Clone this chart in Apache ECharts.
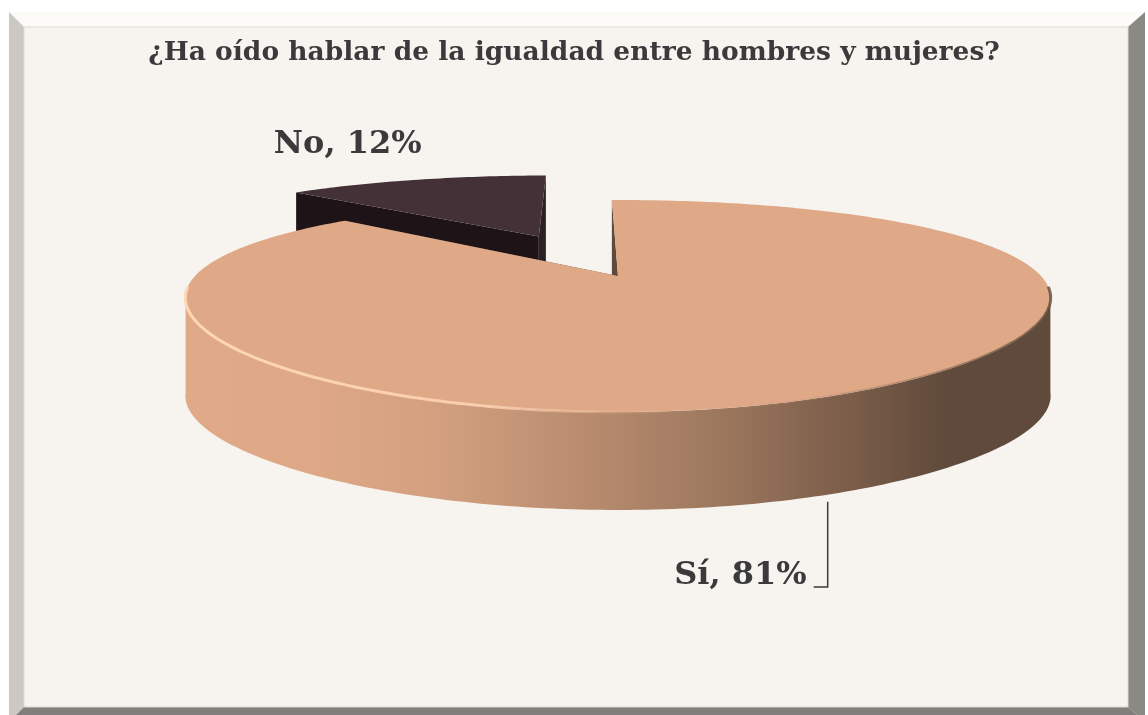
<!DOCTYPE html>
<html>
<head>
<meta charset="utf-8">
<script src="https://cdn.jsdelivr.net/npm/echarts@6/dist/echarts.min.js"></script>
<style>
  html, body { margin: 0; padding: 0; background: #ffffff; }
  #main { width: 1148px; height: 715px; }
</style>
</head>
<body>
<div id="main"></div>
<script>
// datos de la encuesta
var categories = ['Sí', 'No'];
var values = [81, 12];
var titleText = '¿Ha oído hablar de la igualdad entre hombres y mujeres?';

// geometria del pastel 3D (perspectiva aproximada)
var CX = 618, CY = 276;      // centro del pastel
var A = 423, B = 97.5;       // semiejes
var PX = 0.21, PY = 0.283;   // perspectiva
var DEPTH = 98;              // grosor
var START = -1;              // angulo inicial (grados, sentido horario desde arriba)
var EXPLODE = [0, 0.5];
// parte visible de la pared exterior (entre las siluetas)
var SIL = [Math.acos(-PX) * 180 / Math.PI, 360 - Math.acos(-PX) * 180 / Math.PI];

var total = values.reduce(function (a, b) { return a + b; }, 0);

function sliceAngles(i) {
  var a = START;
  for (var j = 0; j < i; j++) a += values[j] / total * 360;
  return [a, a + values[i] / total * 360];
}

function proj(theta, r, ou, ov, dz) {
  var t = theta * Math.PI / 180;
  var u = ou + r * Math.sin(t);
  var v = ov - r * Math.cos(t);
  return [CX + A * u / (1 - PX * v), CY + B * v / (1 - PY * v) + (dz || 0)];
}

function arc(a1, a2, ou, ov, dz) {
  var pts = [];
  var n = Math.max(2, Math.ceil(Math.abs(a2 - a1)));
  for (var k = 0; k <= n; k++) {
    pts.push(proj(a1 + (a2 - a1) * k / n, 1, ou, ov, dz));
  }
  return pts;
}

var siWall = {
  type: 'linear', x: 185, y: 0, x2: 1051, y2: 0, global: true,
  colorStops: [
    { offset: 0, color: '#e0aa88' },
    { offset: 0.15, color: '#dea886' },
    { offset: 0.3, color: '#d19f7f' },
    { offset: 0.45, color: '#bb8d70' },
    { offset: 0.6, color: '#a07a60' },
    { offset: 0.75, color: '#7f604c' },
    { offset: 0.88, color: '#5f4a3b' },
    { offset: 1, color: '#5f4a3b' }
  ]
};
var rimLight = {
  type: 'linear', x: 185, y: 0, x2: 1051, y2: 0, global: true,
  colorStops: [
    { offset: 0, color: 'rgba(255,214,182,1)' },
    { offset: 0.35, color: 'rgba(255,214,182,0.8)' },
    { offset: 0.6, color: 'rgba(223,169,136,0)' },
    { offset: 0.85, color: 'rgba(95,74,59,0.35)' },
    { offset: 1, color: 'rgba(95,74,59,0.8)' }
  ]
};

var sliceStyle = [
  { top: '#dfa988', wall: siWall, face1: '#5e4a3c', face2: '#5e4a3c' },
  { top: '#433137', wall: '#2a1c20', face1: '#1e1417', face2: '#2c2024' }
];

function renderItem(params, api) {
  var i = params.dataIndex;
  var ang = sliceAngles(i);
  var mid = (ang[0] + ang[1]) / 2;
  var e = EXPLODE[i];
  var ou = e * Math.sin(mid * Math.PI / 180);
  var ov = -e * Math.cos(mid * Math.PI / 180);
  var st = sliceStyle[i];
  var base = i === 0 ? 10 : 0;

  var c = proj(0, 0, ou, ov, 0);
  var cb = proj(0, 0, ou, ov, DEPTH);
  var topArc = arc(ang[0], ang[1], ou, ov, 0);

  var children = [];
  // pared exterior: solo el tramo frontal
  var w1 = Math.max(ang[0], SIL[0] - 2), w2 = Math.min(ang[1], SIL[1] + 2);
  if (w2 > w1) {
    var wt = arc(w1, w2, ou, ov, 0);
    var wb = arc(w1, w2, ou, ov, DEPTH);
    children.push({
      type: 'polygon', z2: base + 1,
      shape: { points: wt.concat(wb.reverse()) },
      style: { fill: st.wall }
    });
  }
  [[ang[0], st.face1], [ang[1], st.face2]].forEach(function (f) {
    var r0 = proj(f[0], 1, ou, ov, 0);
    var r1 = proj(f[0], 1, ou, ov, DEPTH);
    children.push({
      type: 'polygon', z2: base + 2,
      shape: { points: [c, r0, r1, cb] },
      style: { fill: f[1] }
    });
  });
  children.push({
    type: 'polygon', z2: base + 3,
    shape: { points: [c].concat(topArc) },
    style: { fill: st.top }
  });

  var label = categories[i] + ', ' + api.value(0) + '%';
  var font = 'bold 32px "DejaVu Serif", serif';
  if (i === 0) {
    children.push({
      type: 'polyline', z2: base + 4,
      shape: { points: arc(SIL[0] - 6, SIL[1] + 6, ou, ov, 0) },
      style: { stroke: rimLight, lineWidth: 3, fill: null }
    });
    var p = proj(mid, 1, ou, ov, DEPTH);
    var lx = p[0] - 5, ly = 587;
    children.push({
      type: 'polyline', z2: 40,
      shape: { points: [[lx, p[1] + 8], [lx, ly], [lx - 14, ly]] },
      style: { stroke: '#3a3a3c', lineWidth: 1.5, fill: null }
    });
    children.push({
      type: 'text', z2: 40, x: lx - 21, y: ly - 11,
      style: {
        text: label, fill: '#3a3a3c', font: font,
        align: 'right', verticalAlign: 'middle',
        textAlign: 'right', textVerticalAlign: 'middle'
      }
    });
  } else {
    var q = proj(mid, 1, ou, ov, 0);
    children.push({
      type: 'text', z2: 40, x: q[0] - 68, y: q[1] - 35,
      style: {
        text: label, fill: '#3a3a3c', font: font,
        align: 'center', verticalAlign: 'middle',
        textAlign: 'center', textVerticalAlign: 'middle'
      }
    });
  }
  return { type: 'group', children: children };
}

var chart = echarts.init(document.getElementById('main'));
chart.setOption({
  backgroundColor: '#ffffff',
  animation: false,
  title: {
    text: titleText,
    left: 'center',
    top: 35,
    textStyle: {
      fontFamily: '"DejaVu Serif", serif',
      fontWeight: 'bold',
      fontSize: 26.5,
      color: '#3a3a3c'
    }
  },
  graphic: [
    { type: 'polygon', z: -10, shape: { points: [[9, 12], [1145, 12], [1128, 27], [24, 27]] }, style: { fill: '#fcfbf7' } },
    { type: 'polygon', z: -10, shape: { points: [[9, 12], [24, 27], [24, 707], [9, 722]] }, style: { fill: '#ccc9c2' } },
    { type: 'polygon', z: -10, shape: { points: [[1145, 12], [1145, 722], [1128, 707], [1128, 27]] }, style: { fill: '#8a8985' } },
    { type: 'polygon', z: -10, shape: { points: [[24, 707], [1128, 707], [1145, 722], [9, 722]] }, style: { fill: '#807f7b' } },
    { type: 'rect', z: -10, shape: { x: 24, y: 27, width: 1104, height: 680 }, style: { fill: '#f7f3ee', stroke: '#dedad3', lineWidth: 1 } }
  ],
  series: [{
    type: 'custom',
    coordinateSystem: 'none',
    renderItem: renderItem,
    data: values.map(function (v, i) { return { name: categories[i], value: [v] }; })
  }]
});
</script>
</body>
</html>
